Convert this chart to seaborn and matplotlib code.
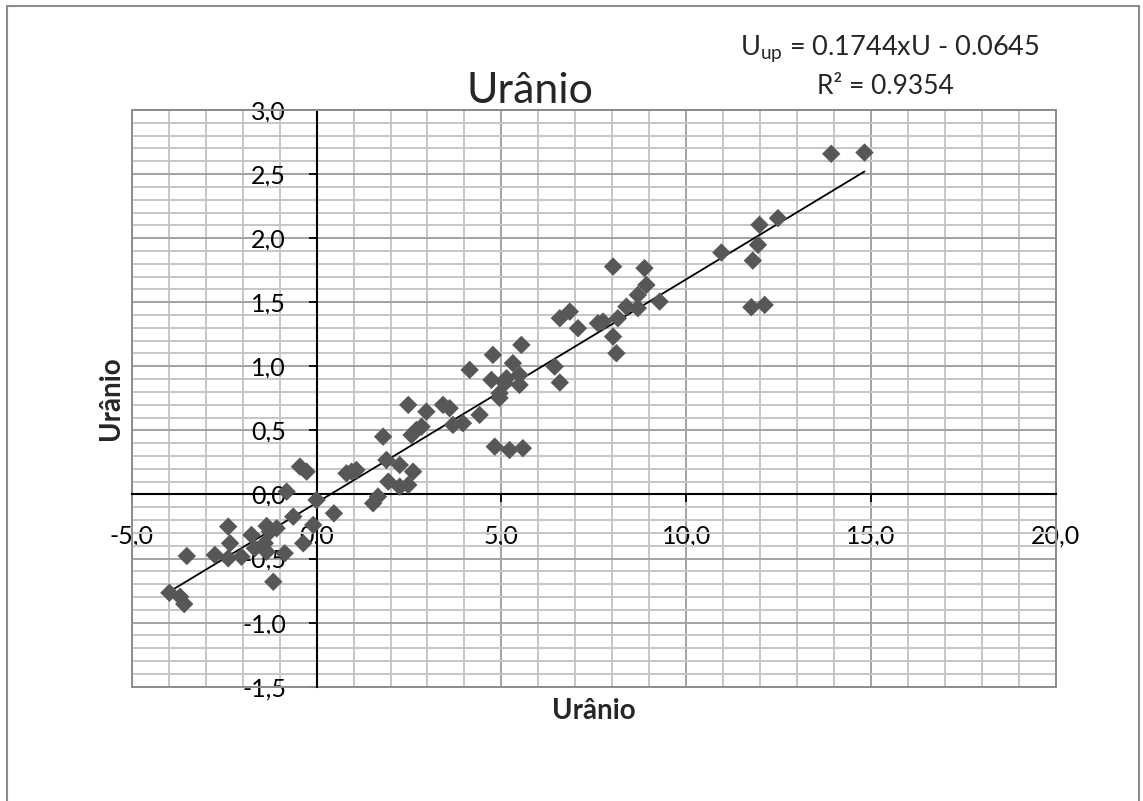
import numpy as np
import pandas as pd
import matplotlib
matplotlib.use("Agg")
import matplotlib.pyplot as plt
from matplotlib.ticker import MultipleLocator, FixedLocator, FuncFormatter
from matplotlib.patches import Rectangle
from matplotlib.lines import Line2D
import seaborn as sns

# ---- data ----
u_x = [-3.98, -3.69, -3.58, -3.51, -2.75, -2.39, -2.34, -2.39, -2.03, -1.76,
       -1.67, -1.35, -1.40, -1.26, -1.08, -1.35, -0.86, -1.17, -0.63, -0.36,
       -0.09, -0.45, -0.27, 0.00, 0.47, 0.81, 1.08, 1.80, 1.89, 1.53,
       1.66, 1.94, 2.25, 2.25, 2.48, 2.61, 2.48, 2.97, 2.57, 2.70,
       2.84, 3.42, 3.60, 3.69, 3.96, 4.41, 4.14, 4.77, 4.73, 4.95,
       4.95, 5.09, 5.31, 5.49, 5.49, 5.54, 4.82, 5.22, 5.58, 6.44,
       6.58, 6.58, 6.85, 7.07, 7.61, 8.02, 8.87, 8.92, 8.69, 8.38,
       8.69, 9.28, 7.75, 8.15, 8.02, 8.11, 10.95, 11.98, 11.94, 11.80,
       11.76, 12.12, 13.92, 14.82, 12.48, -0.81, 5.14, 0.95]
u_up = [-0.767, -0.798, -0.855, -0.480, -0.472, -0.251, -0.381, -0.498, -0.486, -0.316,
        -0.420, -0.246, -0.381, -0.290, -0.264, -0.447, -0.459, -0.681, -0.173, -0.381,
        -0.238, 0.217, 0.178, -0.043, -0.147, 0.165, 0.191, 0.451, 0.269, -0.069,
        -0.017, 0.100, 0.230, 0.061, 0.074, 0.178, 0.699, 0.646, 0.464, 0.503,
        0.529, 0.699, 0.673, 0.543, 0.556, 0.621, 0.972, 1.089, 0.894, 0.790,
        0.753, 0.868, 1.024, 0.933, 0.855, 1.167, 0.373, 0.347, 0.361, 0.998,
        0.873, 1.375, 1.427, 1.297, 1.336, 1.778, 1.766, 1.635, 1.557, 1.466,
        1.454, 1.505, 1.349, 1.375, 1.232, 1.102, 1.888, 2.104, 1.948, 1.825,
        1.461, 1.479, 2.658, 2.668, 2.156, 0.022, 0.907, 0.178]
slope = 0.1744
intercept = -0.0645
r_squared = 0.9354
x_ticks = [-5, 0, 5, 10, 15, 20]
y_ticks = [-1.5, -1.0, -0.5, 0.0, 0.5, 1.0, 1.5, 2.0, 2.5, 3.0]
title_text = "Urânio"
x_label = "Urânio"
y_label = "Urânio"

df = pd.DataFrame({"U": u_x, "Uup": u_up})

W, H = 1143, 801
sns.set_style("white")
plt.rcParams['font.family'] = ['Lato', 'DejaVu Sans']

fig = plt.figure(figsize=(W / 100, H / 100), dpi=100)
fx = lambda px: px / W
fy = lambda py: 1 - py / H

left, right, top, bottom = 131.7, 1056.0, 110.0, 686.7
ax = fig.add_axes([fx(left), fy(bottom), fx(right) - fx(left), fy(top) - fy(bottom)])

ax.set_xlim(x_ticks[0], x_ticks[-1])
ax.set_ylim(y_ticks[0], y_ticks[-1])

# grid
ax.xaxis.set_major_locator(FixedLocator(x_ticks))
ax.yaxis.set_major_locator(FixedLocator(y_ticks))
ax.xaxis.set_minor_locator(MultipleLocator(1))
ax.yaxis.set_minor_locator(MultipleLocator(0.1))
ax.grid(which='minor', color='#C6C6C6', linewidth=1.4, zorder=0)
ax.grid(which='major', color='#A3A3A3', linewidth=1.4, zorder=0)
ax.set_axisbelow(True)

# trend line
xs = np.array([min(u_x), max(u_x)])
ax.plot(xs, slope * xs + intercept, color='black', linewidth=1.3, zorder=3)

sns.scatterplot(data=df, x="U", y="Uup", marker='D', s=88, color='#575757',
                edgecolor='none', linewidth=0, ax=ax, zorder=4, legend=False)

# axes crossing at zero
for side in ['left', 'bottom']:
    ax.spines[side].set_position(('data', 0))
    ax.spines[side].set_color('black')
    ax.spines[side].set_linewidth(1.5)
    ax.spines[side].set_zorder(2.5)
for side in ['top', 'right']:
    ax.spines[side].set_color('#8C8C8C')
    ax.spines[side].set_linewidth(1.4)
ax.add_patch(Rectangle((0, 0), 1, 1, transform=ax.transAxes, fill=False,
                       edgecolor='#8C8C8C', linewidth=1.4, clip_on=False, zorder=1))

fmt = FuncFormatter(lambda v, p: f"{v:.1f}".replace('.', ','))
ax.xaxis.set_major_formatter(fmt)
ax.yaxis.set_major_formatter(fmt)
ax.tick_params(which='major', direction='out', length=6, width=1.3, color='black',
               labelsize=18, pad=16, labelcolor='black')
ax.tick_params(which='minor', length=0)
ax.tick_params(axis='x', bottom=True)
ax.tick_params(axis='y', left=True)
ax.set_xlabel("")
ax.set_ylabel("")

# labels
fig.text(fx(594), fy(711), x_label, fontsize=20, fontweight='bold', ha='center', va='center')
fig.text(fx(111), fy(398), y_label, fontsize=20, fontweight='bold', ha='center', va='center',
         rotation=90)
fig.text(fx(530), fy(103), title_text, fontsize=31, ha='center', va='baseline')

eq1 = f"U$_{{\\mathregular{{up}}}}$ = {slope:.4f}xU - {abs(intercept):.4f}"
eq2 = f"R² = {r_squared:.4f}"
fig.text(fx(890), fy(49), eq1, fontsize=19.5, ha='center', va='center')
fig.text(fx(885), fy(86), eq2, fontsize=19, ha='center', va='center')

# outer chart border
for (x0, y0, x1, y1) in [(7, 6, 7, 820), (1139, 6, 1139, 820), (7, 6, 1139, 6)]:
    fig.add_artist(Line2D([fx(x0), fx(x1)], [fy(y0), fy(y1)], color='#8C8C8C', linewidth=1.5))

fig.savefig("out.png", dpi=100)
